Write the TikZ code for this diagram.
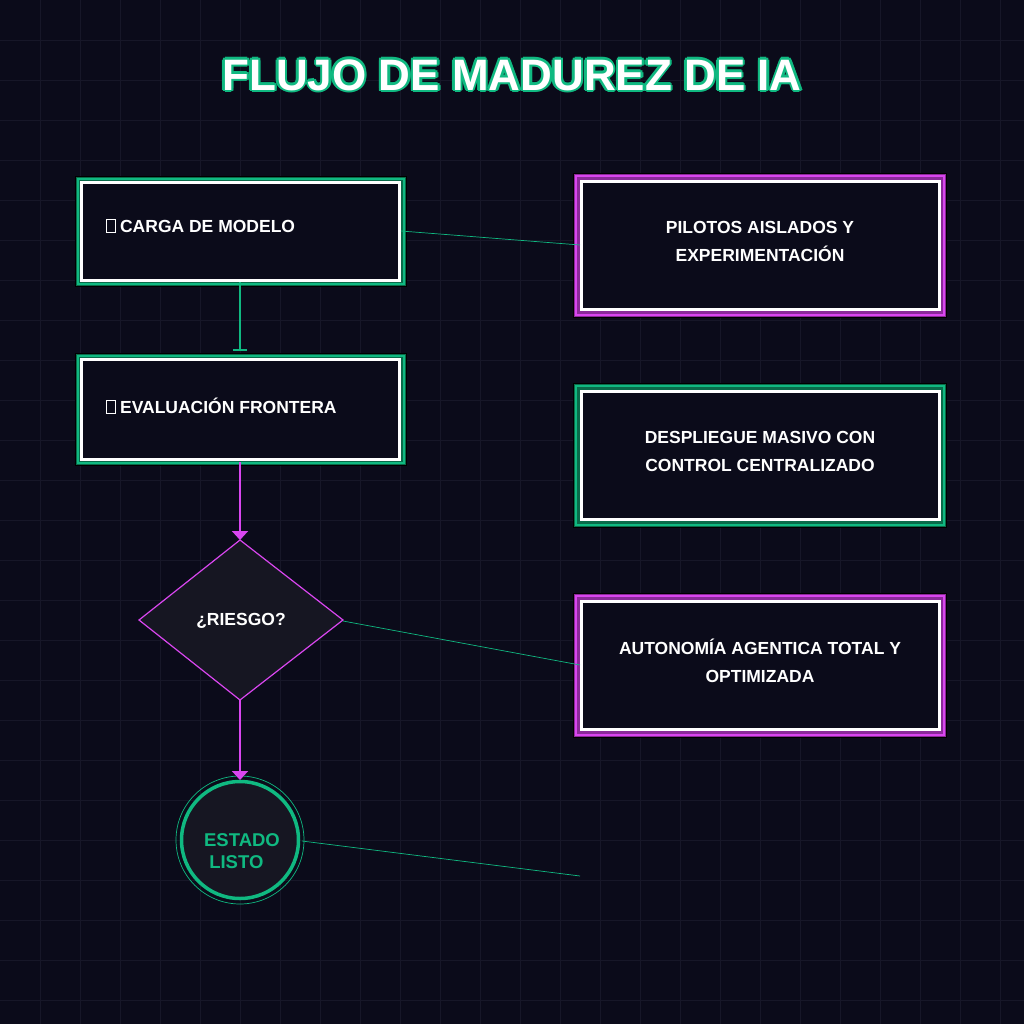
\documentclass[tikz,border=0pt]{standalone}
\usepackage{fontspec}
\setmainfont{Liberation Sans}
\usetikzlibrary{arrows.meta}
\definecolor{bg}{HTML}{0B0B1A}
\definecolor{gridc}{HTML}{171728}
\definecolor{grn}{HTML}{10B981}
\definecolor{dgrn}{HTML}{0A6B4A}
\definecolor{mag}{HTML}{D946EF}
\definecolor{dmag}{HTML}{8B2A9A}
\definecolor{nodefill}{HTML}{161622}
\newcommand{\gbox}{\tikz[baseline=0pt]\draw[white,line width=0.7pt](0,-0.5pt) rectangle (9pt,13pt);}
\tikzset{
 lbl/.style={text=white,font=\bfseries\fontsize{17.5pt}{28pt}\selectfont,align=center},
 thinl/.style={grn,line width=0.7pt},
 ttl/.style={font=\bfseries\fontsize{44pt}{50pt}\selectfont},
}
\begin{document}
\begin{tikzpicture}[x=1pt,y=-1pt]
\fill[bg] (0,0) rectangle (1024,1024);
\useasboundingbox (0,0) rectangle (1024,1024);
\foreach \i in {40,80,...,1000}{\draw[gridc,line width=0.8pt] (\i,0)--(\i,1024); \draw[gridc,line width=0.8pt] (0,\i)--(1024,\i);}
% title
\foreach \dx/\dy in {-2.5/0,2.5/0,0/-2.5,0/2.5,-1.8/-1.8,1.8/1.8,-1.8/1.8,1.8/-1.8}{
 \node[ttl,text=grn] at (512+\dx,75+\dy) {FLUJO DE MADUREZ DE IA};}
\node[ttl,text=white] (title) at (512,75) {FLUJO DE MADUREZ DE IA};
% left boxes
\foreach \n/\y/\h in {b1/176/111, b2/353/113}{
 \fill[black] (75,\y) rectangle (407,\y+\h);
 \fill[dgrn] (76,\y+1) rectangle (406,\y+\h-1);
 \draw[grn,line width=1.5pt] (78,\y+3) rectangle (404,\y+\h-3);
 \draw[white,line width=3pt] (81.5,\y+6.5) rectangle (399.5,\y+\h-6.5);
 \fill[bg] (83,\y+8) rectangle (398,\y+\h-8);
}
\node[lbl,anchor=west] (t1) at (102,226) {\gbox\ CARGA DE MODELO};
\node[lbl,anchor=west] (t2) at (102,406) {\gbox\ EVALUACIÓN FRONTERA};
% right boxes
\foreach \n/\y/\c/\d in {r1/173/mag/dmag, r2/383/grn/dgrn, r3/593/mag/dmag}{
 \fill[black] (573,\y) rectangle (947,\y+145);
 \fill[\d] (574,\y+1) rectangle (946,\y+144);
 \draw[\c,line width=1.5pt] (576,\y+3) rectangle (944,\y+142);
 \draw[white,line width=3pt] (581.5,\y+8.5) rectangle (939.5,\y+136.5);
 \fill[bg] (583,\y+10) rectangle (938,\y+135);
}
\node[lbl] (r1t) at (760,241) {PILOTOS AISLADOS Y\\EXPERIMENTACIÓN};
\node[lbl] (r2t) at (760,451) {DESPLIEGUE MASIVO CON\\CONTROL CENTRALIZADO};
\node[lbl] (r3t) at (760,661) {AUTONOMÍA AGENTICA TOTAL Y\\OPTIMIZADA};
% diamond
\coordinate (dT) at (240,540); \coordinate (dB) at (240,700);
\coordinate (dR) at (343,621);
\draw[mag,line width=1.2pt,fill=nodefill] (dT)--(343,620)--(dB)--(139,620)--cycle;
\node[lbl] (dq) at (241,621) {¿RIESGO?};
% circle
\draw[grn,line width=0.7pt] (240,840) circle (64);
\draw[grn,line width=3.5pt,fill=nodefill] (240,840) circle (58.5);
\node[text=grn,font=\bfseries\fontsize{18.5pt}{22pt}\selectfont,align=left] (end) at (242,851) {ESTADO\\\ LISTO};
\coordinate (cT) at (240,780); \coordinate (cR) at (302,841);
% connectors
\draw[grn,line width=2pt,-{Bar[width=14pt]}] (240,282) -- (240,351);
\draw[mag,line width=2pt,-{Triangle[width=16pt,length=9pt]}] (240,462) -- (dT);
\draw[mag,line width=2pt,-{Triangle[width=16pt,length=9pt]}] (dB) -- (cT);
\coordinate (e1) at (580,245); \coordinate (e2) at (580,665); \coordinate (e3) at (580,876);
\draw[thinl] (401,231) -- (e1);
\draw[thinl] (dR) -- (e2);
\draw[thinl] (cR) -- (e3);
\end{tikzpicture}
\end{document}
